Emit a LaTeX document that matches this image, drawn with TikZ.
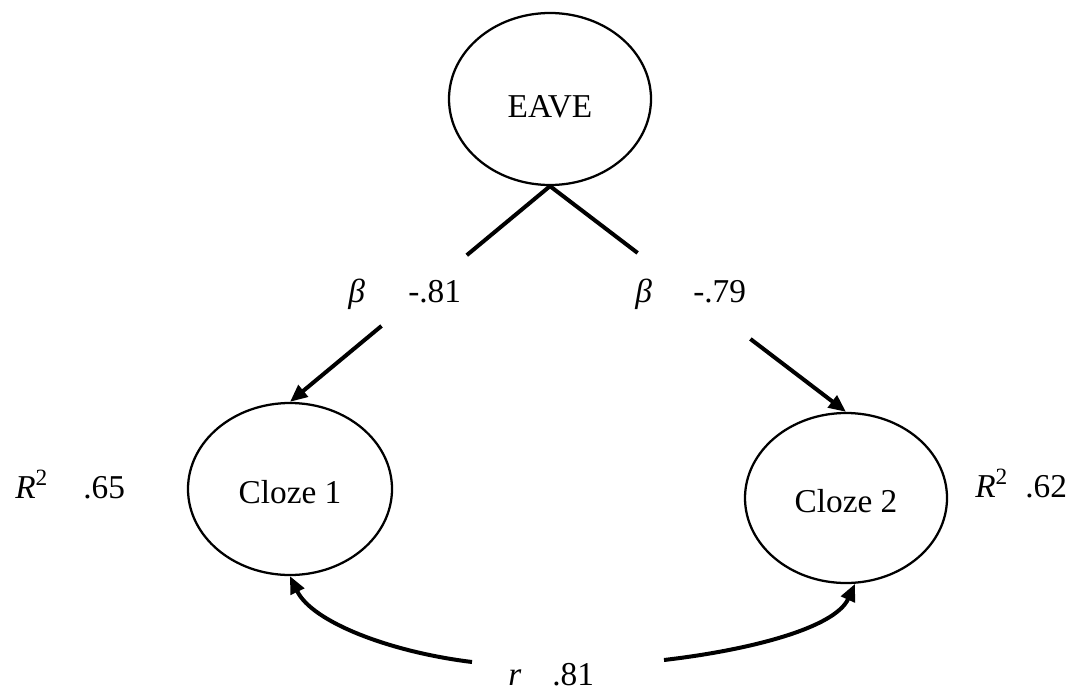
\documentclass[tikz,border=0pt]{standalone}
\usepackage{fontspec}
\setmainfont{Liberation Serif}
\usetikzlibrary{shapes.geometric,arrows.meta,calc}
\begin{document}
\begin{tikzpicture}[x=0.75pt,y=-0.75pt,
  latent/.style={draw,ellipse,line width=1.7pt,inner sep=0pt,font=\fontsize{25}{30}\selectfont,text height=22pt,text depth=0pt},
  lab/.style={font=\fontsize{25}{30}\selectfont,anchor=base west,inner sep=0pt,text depth=0pt},
  plain/.style={line width=3pt},
  arr/.style={line width=3pt,-{Triangle[length=13pt,width=11pt]}}]
\useasboundingbox (0,0) rectangle (1091,692);
\node[latent,minimum width=151.5pt,minimum height=129pt,text height=27pt] (E) at (550,99) {EAVE};
\node[latent,minimum width=153pt,minimum height=129pt] (C1) at (290,489) {Cloze 1};
\node[latent,minimum width=151.5pt,minimum height=127.5pt] (C2) at (846,498) {Cloze 2};
% paths from EAVE, broken by their labels
\draw[plain] (E.south) -- ($(E.south)!0.32!(C1.north)$);
\draw[arr] ($(E.south)!0.648!(C1.north)$) -- (C1.north);
\draw[plain] (E.south) -- ($(E.south)!0.296!(C2.north)$);
\draw[arr] ($(E.south)!0.677!(C2.north)$) -- (C2.north);
% labels
\node[lab] (b1) at (348,302) {\textit{β}};
\node[lab] (v1) at (408,302) {-.81};
\node[lab] (b2) at (635,302) {\textit{β}};
\node[lab] (v2) at (693,302) {-.79};
\node[lab] (r1) at (15,498) {\textit{R}\textsuperscript{2}};
\node[lab] (q1) at (83,498) {.65};
\node[lab] (r2) at (975,497) {\textit{R}\textsuperscript{2}};
\node[lab] (q2) at (1025,497) {.62};
\node[lab] (rr) at (508,685) {\textit{r}};
\node[lab] (rv) at (552,685) {.81};
% correlation
\coordinate (cl) at (472,662);
\coordinate (cr) at (664,660);
\draw[arr] (cl) .. controls (390,652) and (312,622) .. (C1.south);
\draw[arr] (cr) .. controls (750,650) and (835,628) .. (C2.-84);
\end{tikzpicture}
\end{document}
